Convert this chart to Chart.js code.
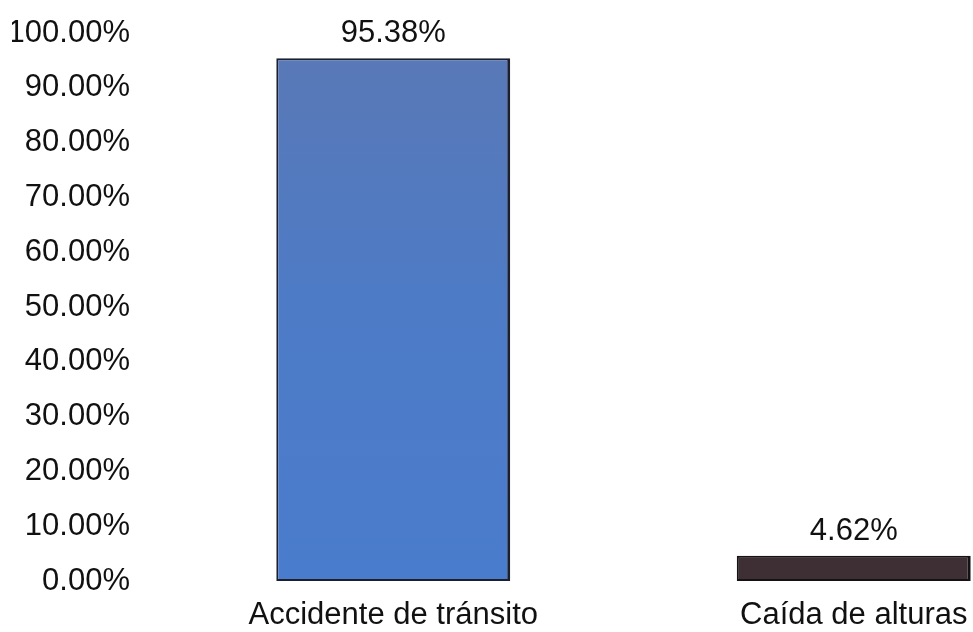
<!DOCTYPE html>
<html>
<head>
<meta charset="utf-8">
<script src="https://cdn.jsdelivr.net/npm/chart.js@4.4.1/dist/chart.umd.min.js"></script>
<style>
  html, body { margin: 0; padding: 0; background: #ffffff; overflow: hidden; }
  #wrap { position: relative; width: 1084px; height: 632px; }
</style>
</head>
<body>
<div id="wrap"><canvas id="chart"></canvas></div>
<script>
// Injury cause shares (%)
const categories = ['Accidente de tránsito', 'Caída de alturas'];
const shares = [95.38, 4.62];
const valueLabels = ['95.38%', '4.62%'];
const yTickValues = [0, 10, 20, 30, 40, 50, 60, 70, 80, 90, 100];

const FONT = "'Liberation Sans', Arial, Helvetica, sans-serif";
const FONT_SIZE = 31;
Chart.defaults.font.family = FONT;
Chart.defaults.color = '#111111';

// Blue gradient for the first bar, dark brown for the second
function barFill(ctx) {
  const chart = ctx.chart;
  const area = chart.chartArea;
  if (!area) return '#4d7cc8';
  if (ctx.dataIndex === 1) return '#3d2f33';
  const g = chart.ctx.createLinearGradient(0, area.top, 0, area.bottom);
  g.addColorStop(0, '#5a78b5');
  g.addColorStop(0.5, '#4d7bc6');
  g.addColorStop(1, '#4a7ccd');
  return g;
}

// Writes each bar's value above it
const valueLabelPlugin = {
  id: 'valueLabels',
  afterDatasetsDraw(chart) {
    const ctx = chart.ctx;
    const meta = chart.getDatasetMeta(0);
    ctx.save();
    ctx.font = FONT_SIZE + 'px ' + FONT;
    ctx.fillStyle = '#111111';
    ctx.textAlign = 'center';
    ctx.textBaseline = 'alphabetic';
    meta.data.forEach((bar, i) => {
      ctx.fillText(valueLabels[i], bar.x, bar.y - 16);
    });
    ctx.restore();
  }
};

new Chart(document.getElementById('chart'), {
  type: 'bar',
  data: {
    labels: categories,
    datasets: [{
      data: shares,
      backgroundColor: barFill,
      borderColor: ['#1c1f2e', '#161113'],
      borderWidth: { top: 2, left: 2, right: 3, bottom: 2 },
      borderSkipped: false,
      barPercentage: 0.508,
      categoryPercentage: 1
    }]
  },
  options: {
    responsive: true,
    maintainAspectRatio: false,
    animation: false,
    layout: { padding: { left: 12, right: 0, top: 33, bottom: 5 } },
    plugins: {
      legend: { display: false },
      tooltip: { enabled: false }
    },
    scales: {
      x: {
        grid: { display: false, drawTicks: false },
        border: { display: false },
        ticks: { font: { size: FONT_SIZE }, color: '#111111', padding: 16, maxRotation: 0 },
        afterFit(axis) { axis.height = 46; }
      },
      y: {
        min: 0,
        max: 100,
        afterBuildTicks(axis) { axis.ticks = yTickValues.map(v => ({ value: v })); },
        grid: { display: false, drawTicks: false },
        border: { display: false },
        ticks: {
          font: { size: FONT_SIZE },
          color: '#111111',
          padding: 33,
          callback: v => v.toFixed(2) + '%'
        },
        afterFit(axis) {
          axis.width = 151;
          axis.paddingTop = 0;
          axis.paddingBottom = 0;
        }
      }
    }
  },
  plugins: [valueLabelPlugin]
});
</script>
</body>
</html>
